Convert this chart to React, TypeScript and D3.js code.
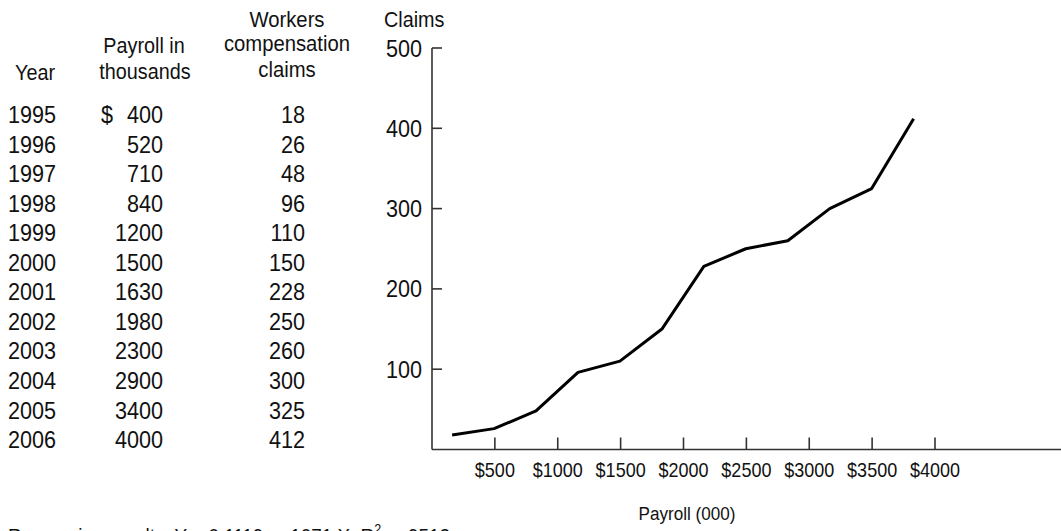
import React from "react";
import * as d3 from "d3";

const years = [1995, 1996, 1997, 1998, 1999, 2000, 2001, 2002, 2003, 2004, 2005, 2006];
const payroll = [400, 520, 710, 840, 1200, 1500, 1630, 1980, 2300, 2900, 3400, 4000];
const claims = [18, 26, 48, 96, 110, 150, 228, 250, 260, 300, 325, 412];
const yTicks = [100, 200, 300, 400, 500];
const xTicks = [500, 1000, 1500, 2000, 2500, 3000, 3500, 4000];

const font = "'Liberation Sans', Arial, Helvetica, sans-serif";
const ink = "#111";

// the printed type is a little narrow, so squeeze it sideways
const T = ({ x, y, size, anchor = "start", children }: any) => (
  <text
    transform={`translate(${x},${y}) scale(0.9,1)`}
    fontSize={size}
    textAnchor={anchor}
    fill={ink}
  >
    {children}
  </text>
);

const App = () => {
  const width = 1061;
  const height = 531;

  const left = 432;
  const bottom = 449.5;

  const x = d3.scaleLinear().domain([0, 4000]).range([left, 935]);
  const y = d3.scaleLinear().domain([0, 500]).range([bottom, 48]);
  // the line is spaced evenly by year in the print, not by payroll
  const xYear = d3
    .scalePoint<number>()
    .domain(years)
    .range([x(160), x(3830)]);

  const line = d3
    .line<number>()
    .x((_, i) => xYear(years[i]) as number)
    .y((d) => y(d));

  const rowY = (i: number) => 123 + i * 29.55;

  return (
    <svg
      width={width}
      height={height}
      style={{ position: "absolute", left: 0, top: 0, display: "block", background: "#fff" }}
      fontFamily={font}
    >
      {/* table headers */}
      <T x={35} y={80} size={22} anchor="middle">Year</T>
      <T x={144} y={53} size={22} anchor="middle">Payroll in</T>
      <T x={145} y={79} size={22} anchor="middle">thousands</T>
      <T x={287} y={27} size={22.5} anchor="middle">Workers</T>
      <T x={287} y={51} size={22.5} anchor="middle">compensation</T>
      <T x={287} y={77} size={22.5} anchor="middle">claims</T>

      {/* table rows */}
      {years.map((yr, i) => (
        <g key={yr}>
          <T x={8} y={rowY(i)} size={24}>{yr}</T>
          {i === 0 && <T x={101} y={rowY(i)} size={24}>$</T>}
          <T x={163} y={rowY(i)} size={24} anchor="end">{payroll[i]}</T>
          <T x={305} y={rowY(i)} size={24} anchor="end">{claims[i]}</T>
        </g>
      ))}

      {/* y axis */}
      <T x={384} y={27} size={22}>Claims</T>
      <line x1={left} x2={left} y1={y(500)} y2={bottom} stroke="#333" strokeWidth={1.6} />
      {yTicks.map((t) => (
        <g key={t}>
          <line x1={left} x2={left + 10} y1={y(t)} y2={y(t)} stroke="#333" strokeWidth={1.6} />
          <T x={422} y={y(t) + 8.5} size={24} anchor="end">{t}</T>
        </g>
      ))}

      {/* x axis */}
      <line x1={left} x2={width} y1={bottom} y2={bottom} stroke="#333" strokeWidth={1.6} />
      {xTicks.map((t) => (
        <g key={t}>
          <line x1={x(t)} x2={x(t)} y1={bottom} y2={bottom - 12} stroke="#333" strokeWidth={1.6} />
          <T x={x(t)} y={477} size={20} anchor="middle">${t}</T>
        </g>
      ))}
      <T x={687} y={520} size={19} anchor="middle">Payroll (000)</T>

      {/* data line */}
      <path
        d={line(claims) ?? ""}
        fill="none"
        stroke="#000"
        strokeWidth={3}
        strokeLinejoin="round"
      />

      {/* regression note, cut by the page edge as in the print */}
      <T x={8} y={543} size={21}>
        Regression results: Y = 0.1119 + .1071 X; R
        <tspan dy={-9} fontSize="14">2</tspan>
        <tspan dy={9}> = .9512</tspan>
      </T>
    </svg>
  );
};

export default App;
